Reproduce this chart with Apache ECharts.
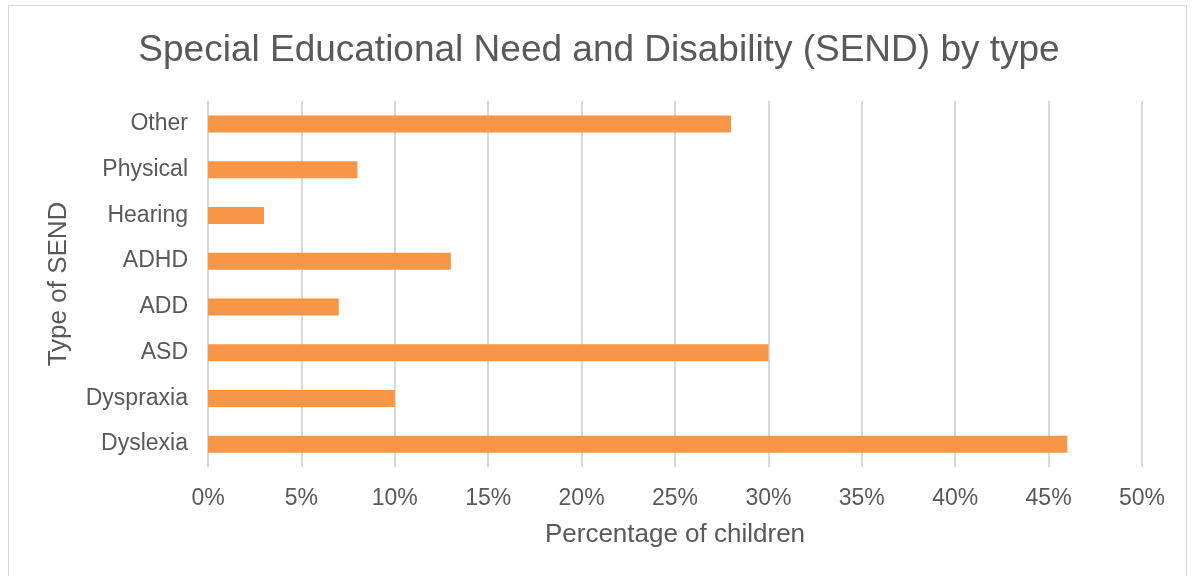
<!DOCTYPE html>
<html>
<head>
<meta charset="utf-8">
<script src="https://cdn.jsdelivr.net/npm/echarts@6/dist/echarts.min.js"></script>
<style>
html,body{margin:0;padding:0;background:#fff;}
#chart{width:1198px;height:576px;}
</style>
</head>
<body>
<div id="chart"></div>
<script>
const categories = ['Dyslexia', 'Dyspraxia', 'ASD', 'ADD', 'ADHD', 'Hearing', 'Physical', 'Other'];
const percentages = [46, 10, 30, 7, 13, 3, 8, 28];
const titleText = 'Special Educational Need and Disability (SEND) by type';
const xAxisName = 'Percentage of children';
const yAxisName = 'Type of SEND';

const textColor = '#595959';
const font = '"Liberation Sans", Arial, sans-serif';
const chart = echarts.init(document.getElementById('chart'), null, {renderer: 'canvas'});
chart.setOption({
  backgroundColor: '#ffffff',
  animation: false,
  title: {
    text: titleText,
    left: 'center',
    top: 27,
    textStyle: {color: textColor, fontSize: 37, fontWeight: 'normal', fontFamily: font}
  },
  graphic: [{
    type: 'rect',
    shape: {x: 8.5, y: 5.5, width: 1178, height: 600},
    style: {fill: 'none', stroke: '#d9d9d9', lineWidth: 1}
  }],
  grid: {left: 208, right: 56, top: 101, bottom: 109},
  xAxis: {
    type: 'value',
    min: 0, max: 50, interval: 5,
    axisLine: {show: false},
    axisTick: {show: false},
    axisLabel: {formatter: '{value}%', color: textColor, fontSize: 23, fontFamily: font, margin: 20},
    splitLine: {show: true, lineStyle: {color: '#d9d9d9', width: 2}},
    name: xAxisName,
    nameLocation: 'middle',
    nameGap: 55,
    nameTextStyle: {color: textColor, fontSize: 26, fontFamily: font}
  },
  yAxis: {
    type: 'category',
    data: categories,
    axisLine: {show: false},
    axisTick: {show: false},
    axisLabel: {color: textColor, fontSize: 23, fontFamily: font, margin: 20, padding: [4, 0, 0, 0]},
    name: yAxisName,
    nameLocation: 'middle',
    nameGap: 136,
    nameRotate: 90,
    nameTextStyle: {color: textColor, fontSize: 26, fontFamily: font}
  },
  series: [{
    type: 'bar',
    data: percentages,
    barWidth: 17,
    itemStyle: {color: '#F79646'}
  }]
});
</script>
</body>
</html>
